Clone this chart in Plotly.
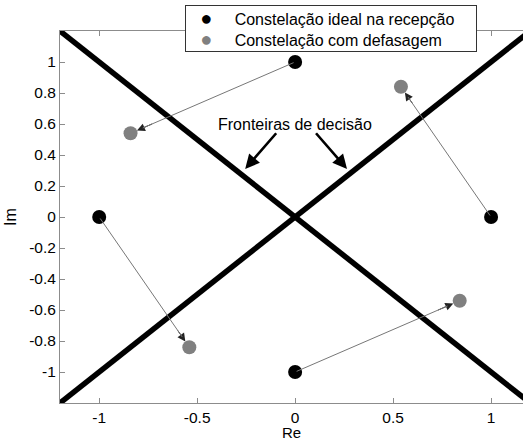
import plotly.graph_objects as go

# Ideal QPSK constellation at the receiver and the phase-shifted version
ideal_re = [1, 0, -1, 0]
ideal_im = [0, 1, 0, -1]
shift_re = [0.54, -0.84, -0.54, 0.84]
shift_im = [0.84, 0.54, -0.84, -0.54]

# Decision boundaries: Im = Re and Im = -Re
bound_re = [-1.2, 1.2, None, -1.2, 1.2]
bound_im = [-1.2, 1.2, None, 1.2, -1.2]

x_ticks = [-1, -0.5, 0, 0.5, 1]
x_labels = ["-1", "-0.5", "0", "0.5", "1"]
y_ticks = [-1, -0.8, -0.6, -0.4, -0.2, 0, 0.2, 0.4, 0.6, 0.8, 1]
y_labels = ["-1", "-0.8", "-0.6", "-0.4", "-0.2", "0", "0.2", "0.4", "0.6", "0.8", "1"]

series_names = ["Constelação ideal na recepção", "Constelação com defasagem"]
series_colors = ["black", "#808080"]

label_text = "Fronteiras de decisão"
label_pos = (0.0, 0.60)
pointer_tails = [(-0.09, 0.55), (0.10, 0.55)]
pointer_tips = [(-0.255, 0.31), (0.265, 0.31)]

FONT = "Liberation Sans, Arial, sans-serif"
AXIS_GRAY = "#8c8c8c"

fig = go.Figure()

fig.add_trace(go.Scatter(
    x=bound_re, y=bound_im, mode="lines",
    line=dict(color="black", width=5.5),
    showlegend=False, hoverinfo="skip",
))

# Arrows from each ideal symbol to its rotated position
for xr, yr, xs, ys in zip(ideal_re, ideal_im, shift_re, shift_im):
    # dark arrowhead next to the rotated symbol
    fig.add_annotation(
        x=xs, y=ys,
        ax=xs + 0.14 * (xr - xs), ay=ys + 0.14 * (yr - ys),
        xref="x", yref="y", axref="x", ayref="y",
        text="", showarrow=True, arrowhead=2, arrowsize=1.6, arrowwidth=1,
        arrowcolor="#222222", standoff=7,
    )
    # thin gray shaft
    fig.add_annotation(
        x=xs + 0.035 * (xr - xs), y=ys + 0.035 * (yr - ys),
        ax=xr, ay=yr, xref="x", yref="y", axref="x", ayref="y",
        text="", showarrow=True, arrowhead=0, arrowwidth=1,
        arrowcolor="#777777", standoff=7,
    )

fig.add_trace(go.Scatter(
    x=ideal_re, y=ideal_im, mode="markers",
    marker=dict(color=series_colors[0], size=14),
    name=series_names[0], showlegend=False,
))
fig.add_trace(go.Scatter(
    x=shift_re, y=shift_im, mode="markers",
    marker=dict(color=series_colors[1], size=14),
    name=series_names[1], showlegend=False,
))

fig.add_annotation(
    x=label_pos[0], y=label_pos[1], xref="x", yref="y",
    text=label_text, showarrow=False,
    font=dict(family=FONT, size=16, color="black"),
)
for (tx, ty), (hx, hy) in zip(pointer_tails, pointer_tips):
    fig.add_annotation(
        x=hx, y=hy, ax=tx, ay=ty, xref="x", yref="y", axref="x", ayref="y",
        text="", showarrow=True, arrowhead=2, arrowsize=1.1, arrowwidth=2.6,
        arrowcolor="black",
    )

# Legend: one boxed text block sitting over the upper axis line
NB = "\u00a0"
legend_lines = [
    f"{NB * 3}<span style='color:{c};font-size:20px'>●</span>{NB * 5}{n}"
    for n, c in zip(series_names, series_colors)
]
fig.add_annotation(
    x=0.270, y=1.070, xref="paper", yref="paper",
    xanchor="left", yanchor="top", align="left",
    text="<br>".join(legend_lines), showarrow=False,
    width=288, bgcolor="white", bordercolor="#333333", borderwidth=1, borderpad=1,
    font=dict(family=FONT, size=16, color="black"),
)

fig.update_layout(
    width=523, height=441,
    margin=dict(l=60, r=0, t=31, b=38),
    paper_bgcolor="white", plot_bgcolor="white",
    font=dict(family=FONT, size=16, color="black"),
    showlegend=False,
    xaxis=dict(
        range=[-1.2, 1.163], tickvals=x_ticks, ticktext=x_labels,
        showgrid=False, zeroline=False, showline=True, linecolor=AXIS_GRAY,
        linewidth=1, mirror="ticks", ticks="inside", ticklen=5, tickcolor=AXIS_GRAY,
        title=dict(text="Re", standoff=6, font=dict(size=15)),
        tickfont=dict(size=15.5),
    ),
    yaxis=dict(
        range=[-1.2, 1.2], tickvals=y_ticks, ticktext=y_labels,
        showgrid=False, zeroline=False, showline=True, linecolor=AXIS_GRAY,
        linewidth=1, ticks="inside", ticklen=5, tickcolor=AXIS_GRAY,
        title=dict(text="Im", standoff=8, font=dict(size=16)),
        tickfont=dict(size=15.5),
    ),
)

fig.write_html("out.html")
